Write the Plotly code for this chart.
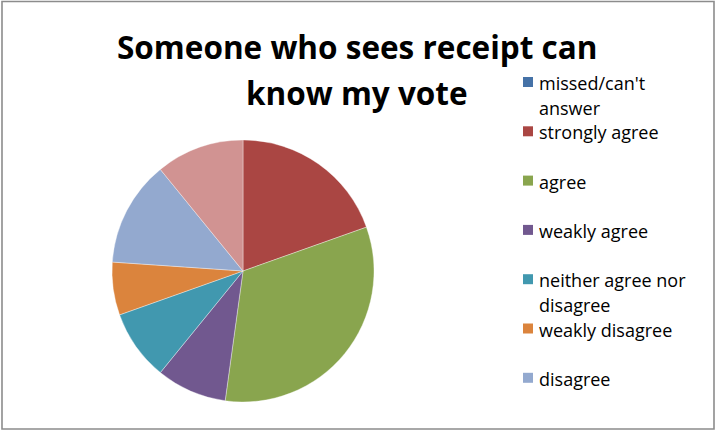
import plotly.graph_objects as go

# ── Data ───────────────────────────────────────────────────────────────────
labels = [
    "missed/can't answer",
    "strongly agree",
    "agree",
    "weakly agree",
    "neither agree nor disagree",
    "weakly disagree",
    "disagree",
    "strongly disagree",
]
counts = [0, 9, 15, 4, 4, 3, 6, 5]
colors = ["#4572A7", "#AA4643", "#89A54E", "#71588F", "#4198AF", "#DB843D", "#93A9CF", "#D19392"]

# legend text as it wraps in the original (last category is cut off there)
legend_lines = [
    ["missed/can't", "answer"],
    ["strongly agree"],
    ["agree"],
    ["weakly agree"],
    ["neither agree nor", "disagree"],
    ["weakly disagree"],
    ["disagree"],
]

W, H = 716, 432
FONT = "Open Sans, sans-serif"


def px(x):
    return x / W


def py(y):
    return 1 - y / H


# ── Pie ────────────────────────────────────────────────────────────────────
cx, cy, r = 243, 271, 131

fig = go.Figure()
fig.add_trace(go.Pie(
    labels=labels, values=counts,
    sort=False, direction="clockwise", rotation=0,
    marker=dict(colors=colors, line=dict(color="rgba(255,255,255,0.6)", width=0.6)),
    textinfo="none", hoverinfo="label+value+percent",
    showlegend=False,
    domain=dict(x=[px(cx - r), px(cx + r)], y=[py(cy + r), py(cy - r)]),
))

# ── Hand-built legend (matches the clipped legend of the source) ──────────
shapes = [dict(type="rect", xref="paper", yref="paper",
               x0=px(2), x1=px(714), y0=py(429), y1=py(1.5),
               line=dict(color="#8c8c8c", width=1.6), fillcolor="rgba(0,0,0,0)")]
annotations = []
row0, row_step, line_step = 83, 49.3, 25
for k, lines in enumerate(legend_lines):
    yc = row0 + k * row_step
    shapes.append(dict(type="rect", xref="paper", yref="paper",
                       x0=px(523), x1=px(533), y0=py(yc + 4), y1=py(yc - 6),
                       line=dict(width=0), fillcolor=colors[k]))
    for j, t in enumerate(lines):
        annotations.append(dict(
            text=t, xref="paper", yref="paper",
            x=px(536.5), y=py(yc + j * line_step),
            xanchor="left", yanchor="middle", showarrow=False,
            font=dict(family=FONT, size=18, color="#000000"),
        ))

# title, two centred lines
for j, t in enumerate(["Someone who sees receipt can", "know my vote"]):
    annotations.append(dict(
        text=f"<b>{t}</b>", xref="paper", yref="paper",
        x=px(357), y=py(47 + j * 45),
        xanchor="center", yanchor="middle", showarrow=False,
        font=dict(family=FONT, size=31.5, color="#000000"),
    ))

fig.update_layout(
    width=W, height=H,
    margin=dict(l=0, r=0, t=0, b=0),
    paper_bgcolor="white", plot_bgcolor="white",
    shapes=shapes, annotations=annotations,
)

fig.write_html("out.html", config={"displayModeBar": False},
               post_script="document.body.style.margin='0';")
